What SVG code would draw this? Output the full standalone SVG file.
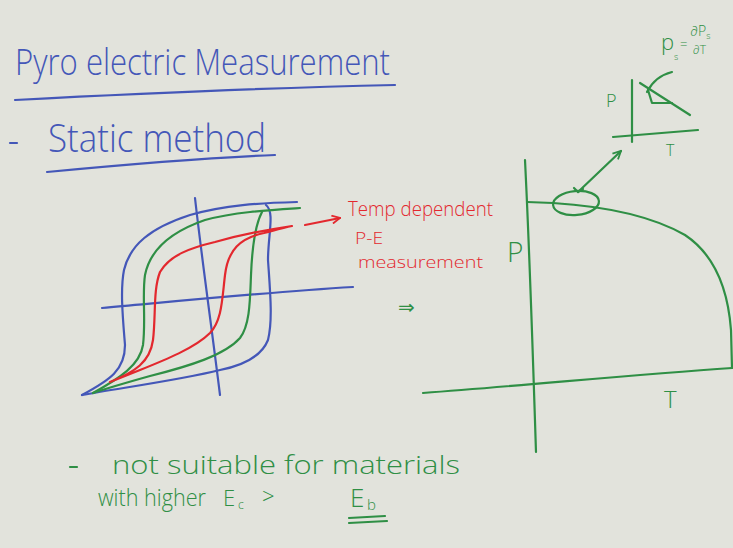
<svg xmlns="http://www.w3.org/2000/svg" width="733" height="548" viewBox="0 0 733 548">
<defs>
<style>
.b{stroke:#4457b8;fill:none;stroke-width:2.2;stroke-linecap:round;stroke-linejoin:round}
.g{stroke:#2f8f45;fill:none;stroke-width:2.2;stroke-linecap:round;stroke-linejoin:round}
.r{stroke:#e3282e;fill:none;stroke-width:2.2;stroke-linecap:round;stroke-linejoin:round}
.tb{fill:#4457b8;font-family:"Open Sans","Liberation Sans",sans-serif;font-weight:300}
.tg{fill:#2f8f45;font-family:"Open Sans","Liberation Sans",sans-serif;font-weight:300}
.tr{fill:#e3282e;font-family:"Open Sans","Liberation Sans",sans-serif;font-weight:300}
</style>
<marker id="ag" viewBox="0 0 10 10" refX="9" refY="5" markerWidth="10" markerHeight="10" markerUnits="userSpaceOnUse" orient="auto"><path d="M1,1 L9,5 L1,9" fill="none" stroke="#2f8f45" stroke-width="1.8"/></marker>
<marker id="ar" viewBox="0 0 10 10" refX="9" refY="5" markerWidth="10" markerHeight="10" markerUnits="userSpaceOnUse" orient="auto"><path d="M1,1 L9,5 L1,9" fill="none" stroke="#e3282e" stroke-width="1.8"/></marker>
</defs>
<rect width="733" height="548" fill="#e2e3dc"/>

<!-- Title -->
<text class="tb" x="15" y="75" font-size="36" textLength="375" lengthAdjust="spacingAndGlyphs">Pyro electric Measurement</text>
<path class="b" d="M15,100 C130,94 260,88 395,85"/>
<path class="b" d="M10,143 L17,143"/>
<text class="tb" x="48" y="152" font-size="38" textLength="218" lengthAdjust="spacingAndGlyphs">Static method</text>
<path class="b" d="M47,172 C120,165 200,158 275,155"/>

<!-- Hysteresis loops -->
<path class="b" d="M195,198 C202,260 212,330 220,395"/>
<path class="b" d="M102,308 C190,300 270,292 353,287"/>
<path class="b" d="M82,395 C110,380 125,370 125,345 C123,320 120,290 124,270 C130,245 150,228 190,215 C225,205 260,203 297,202"/>
<path class="b" d="M266,205 C275,212 268,235 268,260 C270,290 273,320 268,340 C262,355 245,365 220,370 C180,380 120,388 82,395"/>
<path class="g" d="M93,393 C120,378 140,365 143,345 C146,320 142,295 145,275 C150,250 170,232 205,220 C235,212 270,210 300,208"/>
<path class="g" d="M262,212 C255,225 252,250 251,275 C250,300 250,325 240,338 C225,355 190,366 150,376 C125,383 105,389 93,393"/>
<path class="r" d="M110,382 C135,372 150,362 153,340 C156,315 153,290 160,272 C170,255 190,248 215,242 C240,235 265,230 292,226 C282,228 272,231 264,233 C240,238 228,250 225,275 C222,300 222,320 210,333 C195,348 165,360 140,370 C125,376 115,380 110,382"/>

<!-- Red annotation -->
<path class="r" d="M305,225 L340,218" marker-end="url(#ar)"/>
<text class="tr" x="348" y="216" font-size="21" textLength="145" lengthAdjust="spacingAndGlyphs">Temp dependent</text>
<text class="tr" x="355" y="244" font-size="17" textLength="28" lengthAdjust="spacingAndGlyphs">P-E</text>
<text class="tr" x="358" y="268" font-size="16" textLength="125" lengthAdjust="spacingAndGlyphs">measurement</text>
<text class="tg" x="507" y="262" font-size="28">P</text>
<text x="398" y="314" font-size="20" fill="#2f8f45" font-family="DejaVu Sans,sans-serif">⇒</text>

<!-- Right P-T graph -->
<path class="g" d="M525,160 C530,260 533,360 536,452"/>
<path class="g" d="M423,393 C530,385 630,375 732,368"/>
<path class="g" d="M527,202 L553,203 C600,206 650,215 685,235 C715,255 728,290 731,330 L732,368"/>
<ellipse class="g" cx="576" cy="203" rx="23" ry="12" transform="rotate(-5 576 203)"/>
<path class="g" d="M578,192 L621,151" marker-end="url(#ag)"/>
<path class="g" d="M574,188 L578,192 L583,189"/>
<text class="tg" x="664" y="408" font-size="24">T</text>

<!-- Inset -->
<text class="tg" x="661" y="50" font-size="22">p</text>
<text class="tg" x="674" y="60" font-size="9">s</text>
<text class="tg" x="680" y="49" font-size="13">=</text>
<text class="tg" x="690" y="36" font-size="14">∂P<tspan font-size="9" dy="3">s</tspan></text>
<text class="tg" x="693" y="54" font-size="12">∂T</text>
<path class="g" d="M632,80 L632,142"/>
<path class="g" d="M613,137 L698,130"/>
<text class="tg" x="606" y="107" font-size="18">P</text>
<text class="tg" x="666" y="156" font-size="16">T</text>
<path class="g" d="M647,92 C652,82 660,75 672,72"/>
<path class="g" d="M640,83 L690,115"/>
<path class="g" d="M648,90 L652,103 L672,103"/>

<!-- Bottom note -->
<path class="g" d="M70,467 L77,467"/>
<text class="tg" x="112" y="474" font-size="25" textLength="348" lengthAdjust="spacingAndGlyphs">not suitable for materials</text>
<text class="tg" x="98" y="506" font-size="23" textLength="108" lengthAdjust="spacingAndGlyphs">with higher</text>
<text class="tg" x="223" y="506" font-size="22">E</text>
<text class="tg" x="238" y="509" font-size="12">c</text>
<text class="tg" x="262" y="504" font-size="22">&gt;</text>
<text class="tg" x="350" y="507" font-size="26">E</text>
<text class="tg" x="367" y="510" font-size="15">b</text>
<path class="g" d="M349,518 L385,516"/>
<path class="g" d="M349,523 L387,521"/>
</svg>
